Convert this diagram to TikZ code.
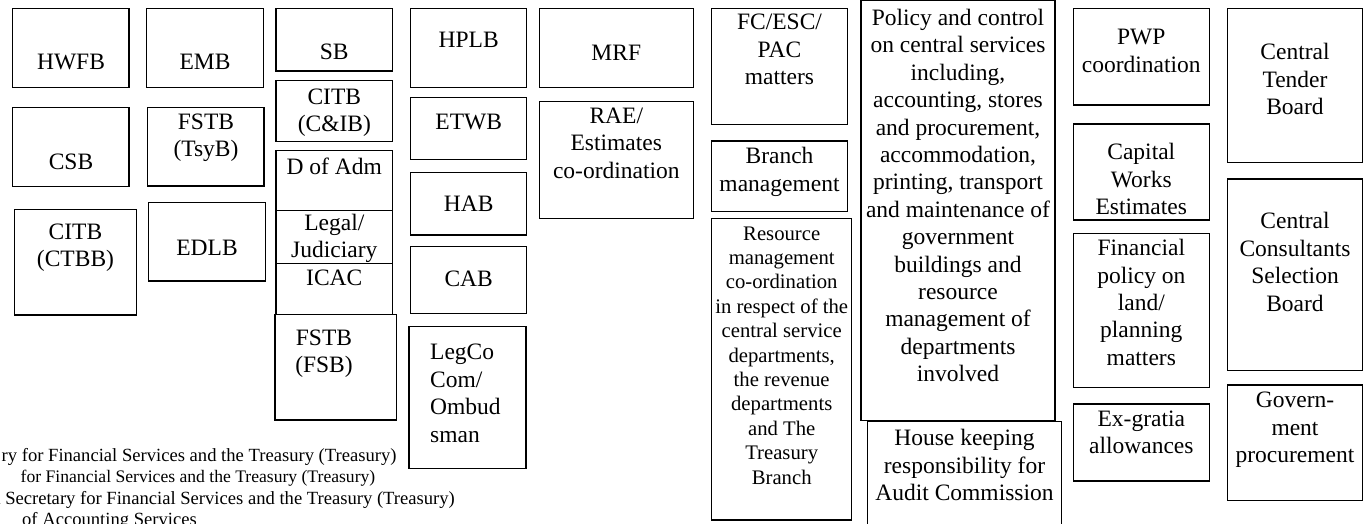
\documentclass[tikz,border=0pt]{standalone}
\usepackage{fontspec}
\setmainfont{Liberation Serif}
\usetikzlibrary{fit}
\tikzset{
  bx/.style={draw, line width=1.4pt, inner sep=0pt},
  tx/.style={font=\fontsize{23.5}{27.4}\selectfont, align=center, inner sep=0pt},
  txs/.style={font=\fontsize{20.7}{24.4}\selectfont, align=center, inner sep=0pt},
  lg/.style={font=\fontsize{18.6}{21.7}\selectfont, inner sep=0pt},
}
\begin{document}
\begin{tikzpicture}[x=1pt,y=-1pt]
\useasboundingbox (0,0) rectangle (1370,524);
% column 1
\node[bx, fit={(12.7,8.3) (129,87.3)}] (hwfb) {};
\node[tx] (hwfbt) at (71,61.7) {HWFB};
\node[bx, fit={(12.7,107.3) (129,186.7)}] (csb) {};
\node[tx] (csbt) at (71,161.7) {CSB};
\node[bx, fit={(14.3,209.3) (136.7,315)}] (citbc) {};
\node[tx] (citbct) at (75.5,248) {CITB\\(CTBB)};
% column 2
\node[bx, fit={(146.7,8.3) (263.3,87.3)}] (emb) {};
\node[tx] (embt) at (205,62) {EMB};
\node[bx, fit={(147.7,107.3) (264,186)}] (fstbt) {};
\node[tx] (fstbtt) at (206,138) {FSTB\\(TsyB)};
\node[bx, fit={(148.3,202.7) (265.7,281)}] (edlb) {};
\node[tx] (edlbt) at (207,248.3) {EDLB};
% column 3
\node[bx, fit={(276,8.3) (392.7,71)}] (sb) {};
\node[tx] (sbt) at (334.3,51.7) {SB};
\node[bx, fit={(276,80.7) (392.7,141.7)}] (citbci) {};
\node[tx] (citbcit) at (334.3,112.5) {CITB\\(C\&IB)};
\node[bx, fit={(276,150.7) (392.7,210.7)}] (dadm) {};
\node[tx] (dadmt) at (334.3,166.7) {D of Adm};
\node[bx, fit={(276,210.7) (392.7,263.3)}] (legal) {};
\node[tx] (legalt) at (334.3,238.5) {Legal/\\Judiciary};
\node[bx, fit={(276,263.3) (392.7,314.3)}] (icac) {};
\node[tx] (icact) at (334.3,278.3) {ICAC};
\node[bx, fit={(275,314.3) (396.7,420)}] (fstbf) {};
\node[tx] (fstbft) at (324,354) {FSTB\\(FSB)};
% column 4
\node[bx, fit={(410.7,8.3) (526.7,87.7)}] (hplb) {};
\node[tx] (hplbt) at (468.7,40) {HPLB};
\node[bx, fit={(410.7,97.3) (526.7,159.3)}] (etwb) {};
\node[tx] (etwbt) at (468.7,121.7) {ETWB};
\node[bx, fit={(410.7,172.3) (526.7,235)}] (hab) {};
\node[tx] (habt) at (468.7,203.3) {HAB};
\node[bx, fit={(410.7,246.7) (526.7,313.3)}] (cab) {};
\node[tx] (cabt) at (468.7,279.3) {CAB};
\node[bx, fit={(409,326.7) (526,468.3)}] (legco) {};
\node[tx, align=left, anchor=west] (legcot) at (430,393.3) {LegCo\\Com/\\Ombud\\sman};
% column 5
\node[bx, fit={(539.3,8.3) (693.3,87.3)}] (mrf) {};
\node[tx] (mrft) at (616.3,53.3) {MRF};
\node[bx, fit={(539.3,101.7) (693.3,218.3)}] (rae) {};
\node[tx] (raet) at (616.3,143.3) {RAE/\\Estimates\\co-ordination};
% column 6
\node[bx, fit={(711.7,8.3) (847.3,124.3)}] (fc) {};
\node[tx] (fct) at (779.5,49.5) {FC/ESC/\\PAC\\matters};
\node[bx, fit={(711.7,141) (847.3,211.7)}] (branch) {};
\node[tx] (brancht) at (779.5,171.7) {Branch\\management};
\node[bx, fit={(711.7,218.3) (851.7,520)}] (res) {};
\node[txs] (rest) at (781.7,355.5) {Resource\\management\\co-ordination\\in respect of the\\central service\\departments,\\the revenue\\departments\\and The\\Treasury\\Branch};
% column 7
\node[bx, fit={(861,0.7) (1055,420.7)}] (pol) {};
\node[tx] (polt) at (958,195.5) {Policy and control\\on central services\\including,\\accounting, stores\\and procurement,\\accommodation,\\printing, transport\\and maintenance of\\government\\buildings and\\resource\\management of\\departments\\involved};
\node[bx, fit={(867.3,421.7) (1061.7,530)}] (house) {};
\node[tx] (houset) at (964.5,465) {House keeping\\responsibility for\\Audit Commission};
% column 8
\node[bx, fit={(1073.3,8.3) (1209.3,105)}] (pwp) {};
\node[tx] (pwpt) at (1141.3,50.8) {PWP\\coordination};
\node[bx, fit={(1073.3,124) (1209.3,220)}] (cap) {};
\node[tx] (capt) at (1141.3,179.2) {Capital\\Works\\Estimates};
\node[bx, fit={(1073.3,233.3) (1209.3,387.7)}] (fin) {};
\node[tx] (fint) at (1141.3,302.5) {Financial\\policy on\\land/\\planning\\matters};
\node[bx, fit={(1073.3,404) (1209.3,481)}] (exg) {};
\node[tx] (exgt) at (1141.3,432.5) {Ex-gratia\\allowances};
% column 9
\node[bx, fit={(1227.3,8.3) (1362.7,162.7)}] (ctb) {};
\node[tx] (ctbt) at (1295,79.2) {Central\\Tender\\Board};
\node[bx, fit={(1227.3,179) (1362.7,370.7)}] (ccsb) {};
\node[tx] (ccsbt) at (1295,262) {Central\\Consultants\\Selection\\Board};
\node[bx, fit={(1227.3,385) (1362.7,500.7)}] (gov) {};
\node[tx] (govt) at (1295,430) {Govern-\\ment\\procurement};
% legend
\node[lg, anchor=base east] (lg1) at (396.7,461) {ry for Financial Services and the Treasury (Treasury)};
\node[lg, anchor=base, font=\fontsize{17.6}{21.7}\selectfont] (lg2) at (198,482.5) {for Financial Services and the Treasury (Treasury)};
\node[lg, anchor=base east] (lg3) at (455,504) {t Secretary for Financial Services and the Treasury (Treasury)};
\node[lg, anchor=base west] (lg4) at (22,525) {of Accounting Services};
\end{tikzpicture}
\end{document}
